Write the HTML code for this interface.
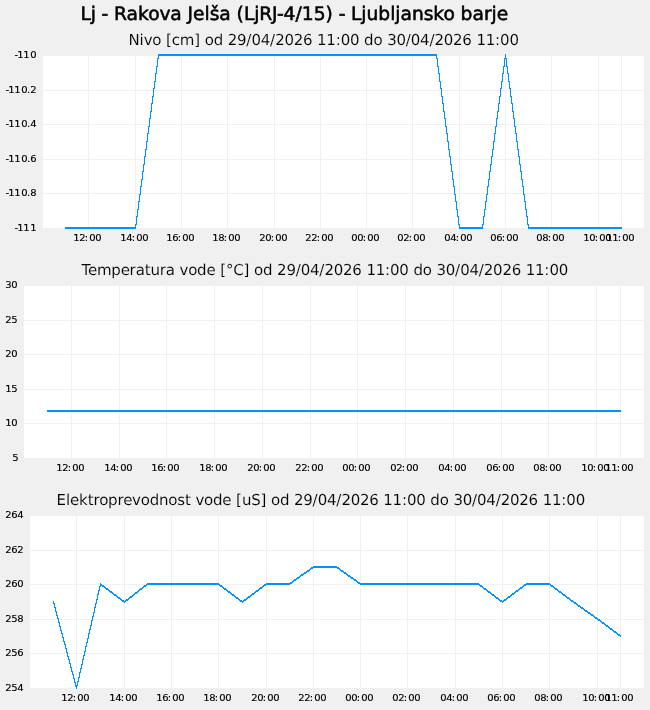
<!DOCTYPE html>
<html lang="sl"><head><meta charset="utf-8">
<title>Lj - Rakova Jelša (LjRJ-4/15) - Ljubljansko barje</title>
<style>
html,body{margin:0;padding:0;background:#f0f0f0;}
body{width:650px;height:710px;overflow:hidden;}
svg{display:block;}
text{font-family:"DejaVu Sans", "Liberation Sans", sans-serif;fill:#000;}
.t0{font-size:18.67px;text-rendering:geometricPrecision;stroke:#000;stroke-width:0.55px;}
.t1{font-size:15px;text-rendering:geometricPrecision;stroke:#f0f0f0;stroke-width:0.12px;}
.ax{font-size:10px;stroke:#000;stroke-width:0.15px;}
.g{fill:#f0f0f0;shape-rendering:crispEdges;}
.d{fill:#0092ff;shape-rendering:crispEdges;}
</style></head><body>
<svg width="650" height="710" viewBox="0 0 650 710">
<rect x="0" y="0" width="650" height="710" fill="#f0f0f0"/>
<text class="t0" x="80.4 90.64 95.76 101.52 108.24 114 126.48 138 148.24 159.44 170.32 181.84 187.6 193.04 204.56 209.68 219.28 230.8 236.56 243.92 254.16 259.28 272.08 276.88 283.6 295.44 301.84 313.68 325.52 332.88 338.64 345.36 351.12 361.36 366.48 378.32 390.16 395.28 400.4 411.92 423.76 433.36 443.6 454.8 460.56 472.4 483.92 491.6 496.72" y="20">Lj - Rakova Jelša (LjRJ-4/15) - Ljubljansko barje</text>
<g>
<text class="t1" x="128.6 139.48 143.64 152.28 161.24 166.04 171.8 179.8 194.2 199.96 204.76 213.72 223 227.8 237.08 246.36 251.48 260.76 270.04 275.16 284.44 293.72 303 312.28 317.08 326.36 335.64 340.76 350.04 359.32 364.12 373.4 382.36 387.16 396.44 405.72 410.84 420.12 429.4 434.52 443.8 453.08 462.36 471.64 476.44 485.72 495 500.12 509.4" y="45">Nivo [cm] od 29/04/2026 11:00 do 30/04/2026 11:00</text>
<rect x="43" y="56" width="601" height="172" fill="#fff"/>
<path class="g" d="M43 193h601v1h-601zM43 159h601v1h-601zM43 124h601v1h-601zM43 90h601v1h-601zM88 56h1v172h-1zM135 56h1v172h-1zM181 56h1v172h-1zM227 56h1v172h-1zM274 56h1v172h-1zM320 56h1v172h-1zM366 56h1v172h-1zM412 56h1v172h-1zM459 56h1v172h-1zM505 56h1v172h-1zM551 56h1v172h-1zM598 56h1v172h-1zM621 56h1v172h-1z"/>
<text class="ax" transform="translate(0 231) scale(1 .933)" x="14.6 17.25 23.25 30.25" y="0">-111</text>
<text class="ax" transform="translate(0 196) scale(1 .933)" x="5.6 8.25 14.25 21.3 26.9 30.3" y="0">-110.8</text>
<text class="ax" transform="translate(0 162) scale(1 .933)" x="5.6 8.25 14.25 21.3 26.9 30.3" y="0">-110.6</text>
<text class="ax" transform="translate(0 127) scale(1 .933)" x="5.6 8.25 14.25 21.3 26.9 30.3" y="0">-110.4</text>
<text class="ax" transform="translate(0 93) scale(1 .933)" x="5.6 8.25 14.25 21.3 26.9 30.3" y="0">-110.2</text>
<text class="ax" transform="translate(0 58) scale(1 .933)" x="14.6 17.25 23.25 30.3" y="0">-110</text>
<text class="ax" transform="translate(0 241) scale(1 .933)" x="73.25 79.3 84.8 89.3 95.3" y="0">12:00</text>
<text class="ax" transform="translate(0 241) scale(1 .933)" x="120.25 126.3 131.8 136.3 142.3" y="0">14:00</text>
<text class="ax" transform="translate(0 241) scale(1 .933)" x="166.25 172.3 177.8 182.3 188.3" y="0">16:00</text>
<text class="ax" transform="translate(0 241) scale(1 .933)" x="212.25 218.3 223.8 228.3 234.3" y="0">18:00</text>
<text class="ax" transform="translate(0 241) scale(1 .933)" x="259.3 265.3 270.8 275.3 281.3" y="0">20:00</text>
<text class="ax" transform="translate(0 241) scale(1 .933)" x="305.3 311.3 316.8 321.3 327.3" y="0">22:00</text>
<text class="ax" transform="translate(0 241) scale(1 .933)" x="351.3 357.3 362.8 367.3 373.3" y="0">00:00</text>
<text class="ax" transform="translate(0 241) scale(1 .933)" x="397.3 403.3 408.8 413.3 419.3" y="0">02:00</text>
<text class="ax" transform="translate(0 241) scale(1 .933)" x="444.3 450.3 455.8 460.3 466.3" y="0">04:00</text>
<text class="ax" transform="translate(0 241) scale(1 .933)" x="490.3 496.3 501.8 506.3 512.3" y="0">06:00</text>
<text class="ax" transform="translate(0 241) scale(1 .933)" x="536.3 542.3 547.8 552.3 558.3" y="0">08:00</text>
<text class="ax" transform="translate(0 241) scale(1 .933)" x="583.25 589.3 594.8 599.3 605.3" y="0">10:00</text>
<text class="ax" transform="translate(0 241) scale(1 .933)" x="606.25 612.25 617.8 622.3 628.3" y="0">11:00</text>
<path class="d" d="M158 54h279v2h-279zM505 54h1v4h-1zM158 56h1v2h-1zM436 56h1v2h-1zM157 58h2v1h-2zM436 58h2v1h-2zM504 58h3v1h-3zM157 59h1v7h-1zM437 59h1v7h-1zM504 59h1v7h-1zM506 59h1v7h-1zM156 66h2v1h-2zM437 66h2v1h-2zM503 66h2v1h-2zM506 66h2v1h-2zM156 67h1v6h-1zM438 67h1v6h-1zM503 67h1v6h-1zM507 67h1v6h-1zM155 73h2v1h-2zM438 73h2v1h-2zM502 73h2v1h-2zM507 73h2v1h-2zM155 74h1v7h-1zM439 74h1v7h-1zM502 74h1v7h-1zM508 74h1v7h-1zM154 81h2v1h-2zM439 81h2v1h-2zM501 81h2v1h-2zM508 81h2v1h-2zM154 82h1v6h-1zM440 82h1v6h-1zM501 82h1v6h-1zM509 82h1v6h-1zM153 88h2v1h-2zM440 88h2v1h-2zM500 88h2v1h-2zM509 88h2v1h-2zM153 89h1v7h-1zM441 89h1v7h-1zM500 89h1v7h-1zM510 89h1v7h-1zM152 96h2v1h-2zM441 96h2v1h-2zM499 96h2v1h-2zM510 96h2v1h-2zM152 97h1v6h-1zM442 97h1v6h-1zM499 97h1v6h-1zM511 97h1v6h-1zM151 103h2v1h-2zM442 103h2v1h-2zM498 103h2v1h-2zM511 103h2v1h-2zM151 104h1v7h-1zM443 104h1v7h-1zM498 104h1v7h-1zM512 104h1v7h-1zM150 111h2v1h-2zM443 111h2v1h-2zM497 111h2v1h-2zM512 111h2v1h-2zM150 112h1v6h-1zM444 112h1v6h-1zM497 112h1v6h-1zM513 112h1v6h-1zM149 118h2v1h-2zM444 118h2v1h-2zM496 118h2v1h-2zM513 118h2v1h-2zM149 119h1v7h-1zM445 119h1v7h-1zM496 119h1v7h-1zM514 119h1v7h-1zM148 126h2v1h-2zM445 126h2v1h-2zM495 126h2v1h-2zM514 126h2v1h-2zM148 127h1v6h-1zM446 127h1v6h-1zM495 127h1v6h-1zM515 127h1v6h-1zM147 133h2v1h-2zM446 133h2v1h-2zM494 133h2v1h-2zM515 133h2v1h-2zM147 134h1v7h-1zM447 134h1v7h-1zM494 134h1v7h-1zM516 134h1v7h-1zM146 141h2v1h-2zM447 141h2v1h-2zM493 141h2v1h-2zM516 141h2v1h-2zM146 142h1v7h-1zM448 142h1v7h-1zM493 142h1v7h-1zM517 142h1v7h-1zM145 149h2v1h-2zM448 149h2v1h-2zM492 149h2v1h-2zM517 149h2v1h-2zM145 150h1v6h-1zM449 150h1v6h-1zM492 150h1v6h-1zM518 150h1v6h-1zM144 156h2v1h-2zM449 156h2v1h-2zM491 156h2v1h-2zM518 156h2v1h-2zM144 157h1v7h-1zM450 157h1v7h-1zM491 157h1v7h-1zM519 157h1v7h-1zM143 164h2v1h-2zM450 164h2v1h-2zM490 164h2v1h-2zM519 164h2v1h-2zM143 165h1v6h-1zM451 165h1v6h-1zM490 165h1v6h-1zM520 165h1v6h-1zM142 171h2v1h-2zM451 171h2v1h-2zM489 171h2v1h-2zM520 171h2v1h-2zM142 172h1v7h-1zM452 172h1v7h-1zM489 172h1v7h-1zM521 172h1v7h-1zM141 179h2v1h-2zM452 179h2v1h-2zM488 179h2v1h-2zM521 179h2v1h-2zM141 180h1v6h-1zM453 180h1v6h-1zM488 180h1v6h-1zM522 180h1v6h-1zM140 186h2v1h-2zM453 186h2v1h-2zM487 186h2v1h-2zM522 186h2v1h-2zM140 187h1v7h-1zM454 187h1v7h-1zM487 187h1v7h-1zM523 187h1v7h-1zM139 194h2v1h-2zM454 194h2v1h-2zM486 194h2v1h-2zM523 194h2v1h-2zM139 195h1v6h-1zM455 195h1v6h-1zM486 195h1v6h-1zM524 195h1v6h-1zM138 201h2v1h-2zM455 201h2v1h-2zM485 201h2v1h-2zM524 201h2v1h-2zM138 202h1v7h-1zM456 202h1v7h-1zM485 202h1v7h-1zM525 202h1v7h-1zM137 209h2v1h-2zM456 209h2v1h-2zM484 209h2v1h-2zM525 209h2v1h-2zM137 210h1v6h-1zM457 210h1v6h-1zM484 210h1v6h-1zM526 210h1v6h-1zM136 216h2v1h-2zM457 216h2v1h-2zM483 216h2v1h-2zM526 216h2v1h-2zM136 217h1v7h-1zM458 217h1v7h-1zM483 217h1v7h-1zM527 217h1v7h-1zM135 224h2v1h-2zM458 224h2v1h-2zM482 224h2v1h-2zM527 224h2v1h-2zM135 225h1v2h-1zM459 225h1v2h-1zM482 225h1v2h-1zM528 225h1v2h-1zM65 227h71v2h-71zM459 227h24v2h-24zM528 227h94v2h-94z"/>
</g>
<g>
<text class="t1" x="81.6 88 96.96 111.36 120.64 129.6 135.68 144.64 150.4 159.68 165.76 174.72 179.52 188.16 197.12 206.4 215.36 220.16 225.92 233.28 243.52 249.28 254.08 263.04 272.32 277.12 286.4 295.68 300.8 310.08 319.36 324.48 333.76 343.04 352.32 361.6 366.4 375.68 384.96 390.08 399.36 408.64 413.44 422.72 431.68 436.48 445.76 455.04 460.16 469.44 478.72 483.84 493.12 502.4 511.68 520.96 525.76 535.04 544.32 549.44 558.72" y="275">Temperatura vode [°C] od 29/04/2026 11:00 do 30/04/2026 11:00</text>
<rect x="24" y="286" width="620" height="172" fill="#fff"/>
<path class="g" d="M24 423h620v1h-620zM24 389h620v1h-620zM24 354h620v1h-620zM24 320h620v1h-620zM71 286h1v172h-1zM119 286h1v172h-1zM166 286h1v172h-1zM214 286h1v172h-1zM262 286h1v172h-1zM310 286h1v172h-1zM357 286h1v172h-1zM405 286h1v172h-1zM453 286h1v172h-1zM501 286h1v172h-1zM548 286h1v172h-1zM596 286h1v172h-1zM620 286h1v172h-1z"/>
<text class="ax" transform="translate(0 461) scale(1 .933)" x="12.3" y="0">5</text>
<text class="ax" transform="translate(0 426) scale(1 .933)" x="5.25 11.3" y="0">10</text>
<text class="ax" transform="translate(0 392) scale(1 .933)" x="5.25 11.3" y="0">15</text>
<text class="ax" transform="translate(0 357) scale(1 .933)" x="5.3 11.3" y="0">20</text>
<text class="ax" transform="translate(0 323) scale(1 .933)" x="5.3 11.3" y="0">25</text>
<text class="ax" transform="translate(0 288) scale(1 .933)" x="5.3 11.3" y="0">30</text>
<text class="ax" transform="translate(0 471) scale(1 .933)" x="56.25 62.3 67.8 72.3 78.3" y="0">12:00</text>
<text class="ax" transform="translate(0 471) scale(1 .933)" x="104.25 110.3 115.8 120.3 126.3" y="0">14:00</text>
<text class="ax" transform="translate(0 471) scale(1 .933)" x="151.25 157.3 162.8 167.3 173.3" y="0">16:00</text>
<text class="ax" transform="translate(0 471) scale(1 .933)" x="199.25 205.3 210.8 215.3 221.3" y="0">18:00</text>
<text class="ax" transform="translate(0 471) scale(1 .933)" x="247.3 253.3 258.8 263.3 269.3" y="0">20:00</text>
<text class="ax" transform="translate(0 471) scale(1 .933)" x="295.3 301.3 306.8 311.3 317.3" y="0">22:00</text>
<text class="ax" transform="translate(0 471) scale(1 .933)" x="342.3 348.3 353.8 358.3 364.3" y="0">00:00</text>
<text class="ax" transform="translate(0 471) scale(1 .933)" x="390.3 396.3 401.8 406.3 412.3" y="0">02:00</text>
<text class="ax" transform="translate(0 471) scale(1 .933)" x="438.3 444.3 449.8 454.3 460.3" y="0">04:00</text>
<text class="ax" transform="translate(0 471) scale(1 .933)" x="486.3 492.3 497.8 502.3 508.3" y="0">06:00</text>
<text class="ax" transform="translate(0 471) scale(1 .933)" x="533.3 539.3 544.8 549.3 555.3" y="0">08:00</text>
<text class="ax" transform="translate(0 471) scale(1 .933)" x="581.25 587.3 592.8 597.3 603.3" y="0">10:00</text>
<text class="ax" transform="translate(0 471) scale(1 .933)" x="605.25 611.25 616.8 621.3 627.3" y="0">11:00</text>
<path class="d" d="M47 410h574v2h-574z"/>
</g>
<g>
<text class="t1" x="56.6 65.88 70.04 79 87.64 93.4 99.16 108.12 117.4 123.16 132.12 140.76 149.72 159 168.28 177.24 184.92 190.68 195.48 204.12 213.08 222.36 231.32 236.12 241.88 251.16 260.44 266.2 271 279.96 289.24 294.04 303.32 312.6 317.72 327 336.28 341.4 350.68 359.96 369.24 378.52 383.32 392.6 401.88 407 416.28 425.56 430.36 439.64 448.6 453.4 462.68 471.96 477.08 486.36 495.64 500.76 510.04 519.32 528.6 537.88 542.68 551.96 561.24 566.36 575.64" y="505">Elektroprevodnost vode [uS] od 29/04/2026 11:00 do 30/04/2026 11:00</text>
<rect x="30" y="516" width="614" height="172" fill="#fff"/>
<path class="g" d="M30 653h614v1h-614zM30 619h614v1h-614zM30 584h614v1h-614zM30 550h614v1h-614zM76 516h1v172h-1zM124 516h1v172h-1zM171 516h1v172h-1zM218 516h1v172h-1zM266 516h1v172h-1zM313 516h1v172h-1zM360 516h1v172h-1zM407 516h1v172h-1zM455 516h1v172h-1zM502 516h1v172h-1zM549 516h1v172h-1zM597 516h1v172h-1zM620 516h1v172h-1z"/>
<text class="ax" transform="translate(0 691) scale(1 .933)" x="5.3 11.3 17.3" y="0">254</text>
<text class="ax" transform="translate(0 656) scale(1 .933)" x="5.3 11.3 17.3" y="0">256</text>
<text class="ax" transform="translate(0 622) scale(1 .933)" x="5.3 11.3 17.3" y="0">258</text>
<text class="ax" transform="translate(0 587) scale(1 .933)" x="5.3 11.3 17.3" y="0">260</text>
<text class="ax" transform="translate(0 553) scale(1 .933)" x="5.3 11.3 17.3" y="0">262</text>
<text class="ax" transform="translate(0 518) scale(1 .933)" x="5.3 11.3 17.3" y="0">264</text>
<text class="ax" transform="translate(0 701) scale(1 .933)" x="61.25 67.3 72.8 77.3 83.3" y="0">12:00</text>
<text class="ax" transform="translate(0 701) scale(1 .933)" x="109.25 115.3 120.8 125.3 131.3" y="0">14:00</text>
<text class="ax" transform="translate(0 701) scale(1 .933)" x="156.25 162.3 167.8 172.3 178.3" y="0">16:00</text>
<text class="ax" transform="translate(0 701) scale(1 .933)" x="203.25 209.3 214.8 219.3 225.3" y="0">18:00</text>
<text class="ax" transform="translate(0 701) scale(1 .933)" x="251.3 257.3 262.8 267.3 273.3" y="0">20:00</text>
<text class="ax" transform="translate(0 701) scale(1 .933)" x="298.3 304.3 309.8 314.3 320.3" y="0">22:00</text>
<text class="ax" transform="translate(0 701) scale(1 .933)" x="345.3 351.3 356.8 361.3 367.3" y="0">00:00</text>
<text class="ax" transform="translate(0 701) scale(1 .933)" x="392.3 398.3 403.8 408.3 414.3" y="0">02:00</text>
<text class="ax" transform="translate(0 701) scale(1 .933)" x="440.3 446.3 451.8 456.3 462.3" y="0">04:00</text>
<text class="ax" transform="translate(0 701) scale(1 .933)" x="487.3 493.3 498.8 503.3 509.3" y="0">06:00</text>
<text class="ax" transform="translate(0 701) scale(1 .933)" x="534.3 540.3 545.8 550.3 556.3" y="0">08:00</text>
<text class="ax" transform="translate(0 701) scale(1 .933)" x="582.25 588.3 593.8 598.3 604.3" y="0">10:00</text>
<text class="ax" transform="translate(0 701) scale(1 .933)" x="605.25 611.25 616.8 621.3 627.3" y="0">11:00</text>
<path class="d" d="M313 566h24v1h-24zM311 567h28v1h-28zM310 568h3v1h-3zM337 568h3v1h-3zM309 569h2v1h-2zM339 569h2v1h-2zM307 570h3v1h-3zM340 570h3v1h-3zM306 571h3v1h-3zM341 571h3v1h-3zM304 572h3v1h-3zM343 572h3v1h-3zM303 573h3v1h-3zM344 573h3v1h-3zM301 574h3v1h-3zM346 574h2v1h-2zM300 575h3v1h-3zM347 575h3v1h-3zM299 576h2v1h-2zM348 576h3v1h-3zM297 577h3v1h-3zM350 577h3v1h-3zM296 578h3v1h-3zM351 578h3v1h-3zM294 579h3v1h-3zM353 579h3v1h-3zM293 580h3v1h-3zM354 580h3v1h-3zM292 581h2v1h-2zM356 581h2v1h-2zM290 582h3v1h-3zM357 582h3v1h-3zM100 583h1v1h-1zM147 583h72v1h-72zM266 583h26v1h-26zM358 583h121v1h-121zM526 583h24v1h-24zM100 584h2v1h-2zM146 584h74v1h-74zM264 584h26v1h-26zM360 584h120v1h-120zM524 584h27v1h-27zM100 585h4v1h-4zM144 585h3v1h-3zM219 585h3v1h-3zM263 585h3v1h-3zM479 585h3v1h-3zM523 585h3v1h-3zM550 585h3v1h-3zM99 586h2v1h-2zM102 586h3v1h-3zM143 586h3v1h-3zM220 586h3v1h-3zM262 586h2v1h-2zM480 586h3v1h-3zM522 586h2v1h-2zM551 586h3v1h-3zM99 587h1v3h-1zM104 587h2v1h-2zM142 587h2v1h-2zM222 587h2v1h-2zM260 587h3v1h-3zM482 587h2v1h-2zM520 587h3v1h-3zM553 587h2v1h-2zM105 588h3v1h-3zM140 588h3v1h-3zM223 588h3v1h-3zM259 588h3v1h-3zM483 588h3v1h-3zM519 588h3v1h-3zM554 588h3v1h-3zM106 589h3v1h-3zM139 589h3v1h-3zM224 589h3v1h-3zM258 589h2v1h-2zM484 589h3v1h-3zM518 589h2v1h-2zM555 589h3v1h-3zM98 590h2v1h-2zM108 590h2v1h-2zM138 590h2v1h-2zM226 590h2v1h-2zM256 590h3v1h-3zM486 590h2v1h-2zM516 590h3v1h-3zM557 590h2v1h-2zM98 591h1v3h-1zM109 591h3v1h-3zM137 591h2v1h-2zM227 591h3v1h-3zM255 591h3v1h-3zM487 591h3v1h-3zM515 591h3v1h-3zM558 591h3v1h-3zM110 592h3v1h-3zM135 592h3v1h-3zM228 592h3v1h-3zM254 592h2v1h-2zM488 592h3v1h-3zM514 592h2v1h-2zM559 592h3v1h-3zM112 593h2v1h-2zM134 593h3v1h-3zM230 593h2v1h-2zM252 593h3v1h-3zM490 593h2v1h-2zM512 593h3v1h-3zM561 593h2v1h-2zM97 594h2v1h-2zM113 594h3v1h-3zM133 594h2v1h-2zM231 594h3v1h-3zM251 594h3v1h-3zM491 594h3v1h-3zM511 594h3v1h-3zM562 594h3v1h-3zM97 595h1v4h-1zM114 595h3v1h-3zM132 595h2v1h-2zM232 595h3v1h-3zM250 595h2v1h-2zM492 595h3v1h-3zM510 595h2v1h-2zM563 595h3v1h-3zM116 596h2v1h-2zM130 596h3v1h-3zM234 596h2v1h-2zM248 596h3v1h-3zM494 596h2v1h-2zM508 596h3v1h-3zM565 596h2v1h-2zM117 597h3v1h-3zM129 597h3v1h-3zM235 597h3v1h-3zM247 597h3v1h-3zM495 597h3v1h-3zM507 597h3v1h-3zM566 597h3v1h-3zM118 598h3v1h-3zM128 598h2v1h-2zM236 598h3v1h-3zM246 598h2v1h-2zM496 598h3v1h-3zM506 598h2v1h-2zM567 598h3v1h-3zM96 599h2v1h-2zM120 599h2v1h-2zM126 599h3v1h-3zM238 599h2v1h-2zM244 599h3v1h-3zM498 599h2v1h-2zM504 599h3v1h-3zM569 599h2v1h-2zM96 600h1v3h-1zM121 600h3v1h-3zM125 600h3v1h-3zM239 600h3v1h-3zM243 600h3v1h-3zM499 600h3v1h-3zM503 600h3v1h-3zM570 600h3v1h-3zM53 601h1v2h-1zM122 601h4v1h-4zM240 601h4v1h-4zM500 601h4v1h-4zM571 601h3v1h-3zM124 602h1v1h-1zM242 602h1v1h-1zM502 602h1v1h-1zM573 602h3v1h-3zM53 603h2v1h-2zM95 603h2v1h-2zM574 603h3v1h-3zM54 604h1v3h-1zM95 604h1v3h-1zM576 604h2v1h-2zM577 605h3v1h-3zM578 606h3v1h-3zM54 607h2v1h-2zM94 607h2v1h-2zM580 607h3v1h-3zM55 608h1v3h-1zM94 608h1v4h-1zM581 608h3v1h-3zM583 609h2v1h-2zM584 610h3v1h-3zM55 611h2v1h-2zM585 611h3v1h-3zM56 612h1v3h-1zM93 612h2v1h-2zM587 612h3v1h-3zM93 613h1v3h-1zM588 613h3v1h-3zM590 614h3v1h-3zM56 615h2v1h-2zM591 615h3v1h-3zM57 616h1v2h-1zM92 616h2v1h-2zM593 616h2v1h-2zM92 617h1v3h-1zM594 617h3v1h-3zM57 618h2v1h-2zM595 618h3v1h-3zM58 619h1v3h-1zM597 619h3v1h-3zM91 620h2v1h-2zM598 620h3v1h-3zM91 621h1v4h-1zM600 621h2v1h-2zM58 622h2v1h-2zM601 622h3v1h-3zM59 623h1v3h-1zM602 623h3v1h-3zM604 624h2v1h-2zM90 625h2v1h-2zM605 625h3v1h-3zM59 626h2v1h-2zM90 626h1v3h-1zM606 626h3v1h-3zM60 627h1v3h-1zM608 627h2v1h-2zM609 628h3v1h-3zM89 629h2v1h-2zM610 629h3v1h-3zM60 630h2v1h-2zM89 630h1v3h-1zM612 630h2v1h-2zM61 631h1v2h-1zM613 631h3v1h-3zM614 632h3v1h-3zM61 633h2v1h-2zM88 633h2v1h-2zM616 633h2v1h-2zM62 634h1v3h-1zM88 634h1v4h-1zM617 634h3v1h-3zM618 635h3v1h-3zM620 636h1v1h-1zM62 637h2v1h-2zM63 638h1v3h-1zM87 638h2v1h-2zM87 639h1v3h-1zM63 641h2v1h-2zM64 642h1v2h-1zM86 642h2v1h-2zM86 643h1v3h-1zM64 644h2v1h-2zM65 645h1v3h-1zM85 646h2v1h-2zM85 647h1v4h-1zM65 648h2v1h-2zM66 649h1v3h-1zM84 651h2v1h-2zM66 652h2v1h-2zM84 652h1v3h-1zM67 653h1v3h-1zM83 655h2v1h-2zM67 656h2v1h-2zM83 656h1v3h-1zM68 657h1v2h-1zM68 659h2v1h-2zM82 659h2v1h-2zM69 660h1v3h-1zM82 660h1v4h-1zM69 663h2v1h-2zM70 664h1v3h-1zM81 664h2v1h-2zM81 665h1v3h-1zM70 667h2v1h-2zM71 668h1v3h-1zM80 668h2v1h-2zM80 669h1v3h-1zM71 671h2v1h-2zM72 672h1v2h-1zM79 672h2v1h-2zM79 673h1v4h-1zM72 674h2v1h-2zM73 675h1v3h-1zM78 677h2v1h-2zM73 678h2v1h-2zM78 678h1v3h-1zM74 679h1v3h-1zM77 681h2v1h-2zM74 682h2v1h-2zM77 682h1v3h-1zM75 683h1v2h-1zM75 685h3v1h-3zM75 686h2v1h-2zM76 687h1v2h-1z"/>
</g>
</svg>
</body></html>
